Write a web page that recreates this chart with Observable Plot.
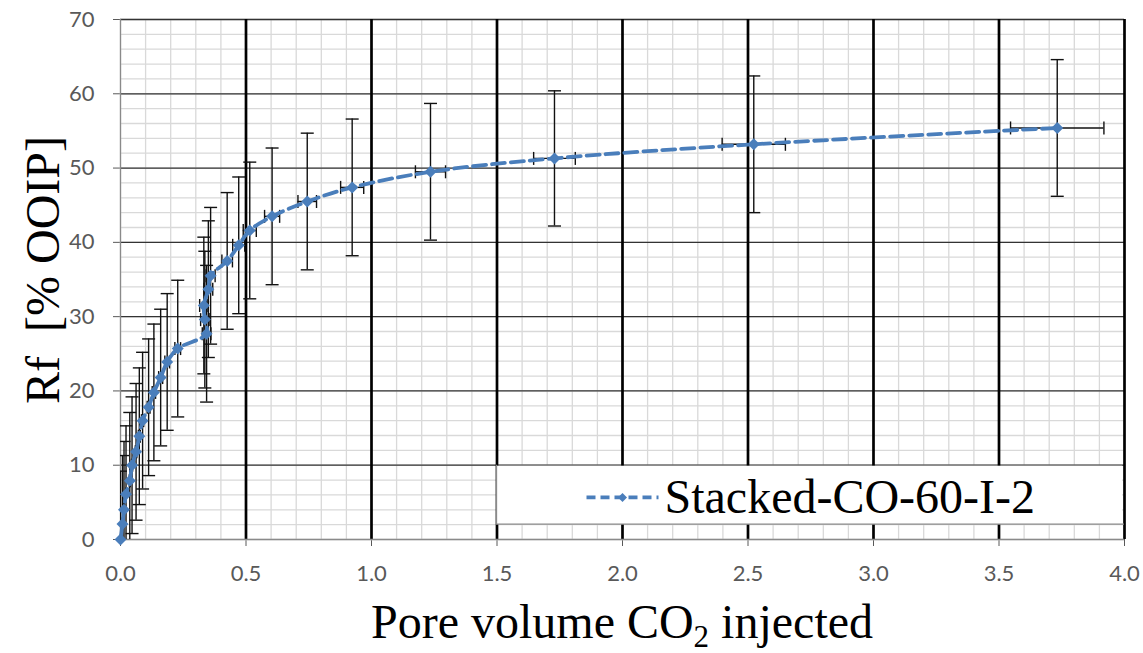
<!DOCTYPE html>
<html><head><meta charset="utf-8">
<script src="https://cdn.jsdelivr.net/npm/d3@7"></script>
<script src="https://cdn.jsdelivr.net/npm/@observablehq/plot@0.6"></script>
<style>body{margin:0;background:#fff;}</style>
</head><body><div id="chart"></div>
<script>
// Pore volume CO2 injected (x) and recovery factor Rf [% OOIP] (y)
const pvInjected = [0.000, 0.008, 0.014, 0.022, 0.037, 0.046, 0.062, 0.075, 0.088, 0.112, 0.133, 0.160, 0.186, 0.228,
                    0.343, 0.336, 0.332, 0.350, 0.359, 0.425, 0.471, 0.515, 0.604, 0.744, 0.923, 1.235, 1.729, 2.523, 3.732];
const recovery   = [0.0, 2.1, 4.0, 6.1, 7.9, 10.0, 11.8, 13.9, 16.0, 17.8, 19.8, 21.8, 23.9, 25.7,
                    27.7, 29.6, 31.5, 33.7, 35.5, 37.5, 39.6, 41.6, 43.5, 45.5, 47.4, 49.5, 51.3, 53.2, 55.4];
// vertical error (± Rf) and horizontal error (± PV)
const recoveryErr = [9.2, 9.2, 9.2, 9.2, 9.2, 9.2, 9.2, 9.2, 9.2, 9.2, 9.2, 9.2, 9.2, 9.2,
                     9.2, 9.2, 9.2, 9.2, 9.2, 9.2, 9.2, 9.2, 9.2, 9.2, 9.2, 9.2, 9.1, 9.2, 9.2];
const pvErr = [0.0, 0.0004, 0.0007, 0.0011, 0.0019, 0.0023, 0.0031, 0.0038, 0.0044, 0.0056, 0.0067, 0.0080, 0.0093, 0.0114,
               0.0172, 0.0168, 0.0166, 0.0175, 0.0180, 0.021, 0.024, 0.026, 0.030, 0.037, 0.046, 0.060, 0.083, 0.126, 0.186];
const xTicks = [0, 0.5, 1.0, 1.5, 2.0, 2.5, 3.0, 3.5, 4.0];
const yTicks = [0, 10, 20, 30, 40, 50, 60, 70];
const xMinor = d3.range(0, 41).map(i => i / 10);
const yMinor = d3.range(0, 36).map(i => i * 2);
const seriesName = "Stacked-CO-60-I-2";
const yTitle = "Rf  [% OOIP]";
const xTitleMain = "Pore volume CO";
const xTitleSub = "2";
const xTitleEnd = " injected";

const blue = "#4a7ebb";
const data = pvInjected.map((x, i) => ({x, y: recovery[i], ye: recoveryErr[i], xe: pvErr[i]}));

const hCap = {draw(ctx) { ctx.moveTo(-6.5, 0); ctx.lineTo(6.5, 0); }};
const vCap = {draw(ctx) { ctx.moveTo(0, -6.5); ctx.lineTo(0, 6.5); }};
const diamond = {draw(ctx) { ctx.moveTo(0, -6); ctx.lineTo(6, 0); ctx.lineTo(0, 6); ctx.lineTo(-6, 0); ctx.closePath(); }};

const chart = Plot.plot({
  width: 1143, height: 653,
  marginLeft: 120, marginRight: 19, marginTop: 19, marginBottom: 114,
  style: {fontFamily: "Lato", fontSize: "22px", color: "#595959", background: "white"},
  x: {domain: [0, 4], ticks: xTicks, tickFormat: d3.format(".1f"), tickSize: 7, tickPadding: 19, label: null},
  y: {domain: [0, 70], ticks: yTicks, tickSize: 7, tickPadding: 19, label: null},
  marks: [
    Plot.ruleX(xMinor, {stroke: "#d9d9d9", strokeWidth: 1.3}),
    Plot.ruleY(yMinor, {stroke: "#d9d9d9", strokeWidth: 1.3}),
    Plot.ruleY(yTicks.filter(d => d > 0), {stroke: "#333", strokeWidth: 1.3}),
    Plot.ruleX(xTicks.filter(d => d > 0), {stroke: "#000", strokeWidth: 2.7}),
    Plot.ruleX([0], {stroke: "#8a8a8a", strokeWidth: 1.3}),
    Plot.ruleY([0], {stroke: "#8a8a8a", strokeWidth: 1.3}),
    // error bars
    Plot.ruleX(data, {x: "x", y1: d => d.y - d.ye, y2: d => d.y + d.ye, stroke: "#111", strokeWidth: 1.4, clip: true}),
    Plot.dot(data, {x: "x", y: d => d.y + d.ye, symbol: hCap, stroke: "#111", fill: "none", strokeWidth: 1.4, clip: true}),
    Plot.dot(data, {x: "x", y: d => d.y - d.ye, symbol: hCap, stroke: "#111", fill: "none", strokeWidth: 1.4, clip: true}),
    Plot.ruleY(data, {y: "y", x1: d => d.x - d.xe, x2: d => d.x + d.xe, stroke: "#111", strokeWidth: 1.4, clip: true}),
    Plot.dot(data, {x: d => d.x - d.xe, y: "y", symbol: vCap, stroke: "#111", fill: "none", strokeWidth: 1.4, clip: true}),
    Plot.dot(data, {x: d => d.x + d.xe, y: "y", symbol: vCap, stroke: "#111", fill: "none", strokeWidth: 1.4, clip: true}),
    // series
    Plot.line(data, {x: "x", y: "y", stroke: blue, strokeWidth: 3.8, strokeDasharray: "13,6", curve: "catmull-rom"}),
    Plot.dot(data, {x: "x", y: "y", symbol: diamond, fill: blue, stroke: "none"})
  ]
});

const svg = d3.select(chart);
const xs = chart.scale("x"), ys = chart.scale("y");
// Legend box (white panel over the grid, grey left and bottom edges)
const lx0 = xs.apply(1.5), lx1 = xs.apply(4.0), ly0 = ys.apply(10), ly1 = ys.apply(2);
const lg = svg.append("g");
lg.append("rect").attr("x", lx0).attr("y", ly0 + 1).attr("width", lx1 - lx0 - 2).attr("height", ly1 - ly0 - 1)
  .attr("fill", "white");
lg.append("path").attr("d", `M${lx0},${ly0}V${ly1}H${lx1}`).attr("fill", "none")
  .attr("stroke", "#8a8a8a").attr("stroke-width", 1.3);
const ly = (ly0 + ly1) / 2 + 3;
lg.append("line").attr("x1", lx0 + 90).attr("x2", lx0 + 162).attr("y1", ly).attr("y2", ly)
  .attr("stroke", blue).attr("stroke-width", 3.8).attr("stroke-dasharray", "9,5");
lg.append("path").attr("transform", `translate(${lx0 + 126},${ly})`).attr("d", "M0,-4.5L4.5,0L0,4.5L-4.5,0Z").attr("fill", blue);
lg.append("text").attr("x", lx0 + 168).attr("y", ly + 16).attr("text-anchor", "start")
  .attr("font-family", "Liberation Serif").attr("font-size", 48).attr("fill", "#000").text(seriesName);
// Axis titles
svg.append("text").attr("transform", `translate(59,270) rotate(-90)`)
  .attr("text-anchor", "middle").attr("font-family", "Liberation Serif").attr("font-size", 48)
  .attr("fill", "#000").attr("xml:space", "preserve").text(yTitle);
const xt = svg.append("text").attr("x", (xs.apply(0) + xs.apply(4)) / 2).attr("y", 638)
  .attr("text-anchor", "middle").attr("font-family", "Liberation Serif").attr("font-size", 48).attr("fill", "#000");
xt.append("tspan").text(xTitleMain);
xt.append("tspan").attr("font-size", 31).attr("dy", 9).text(xTitleSub);
xt.append("tspan").attr("dy", -9).text(xTitleEnd);

document.getElementById("chart").appendChild(chart);
</script>
</body></html>
